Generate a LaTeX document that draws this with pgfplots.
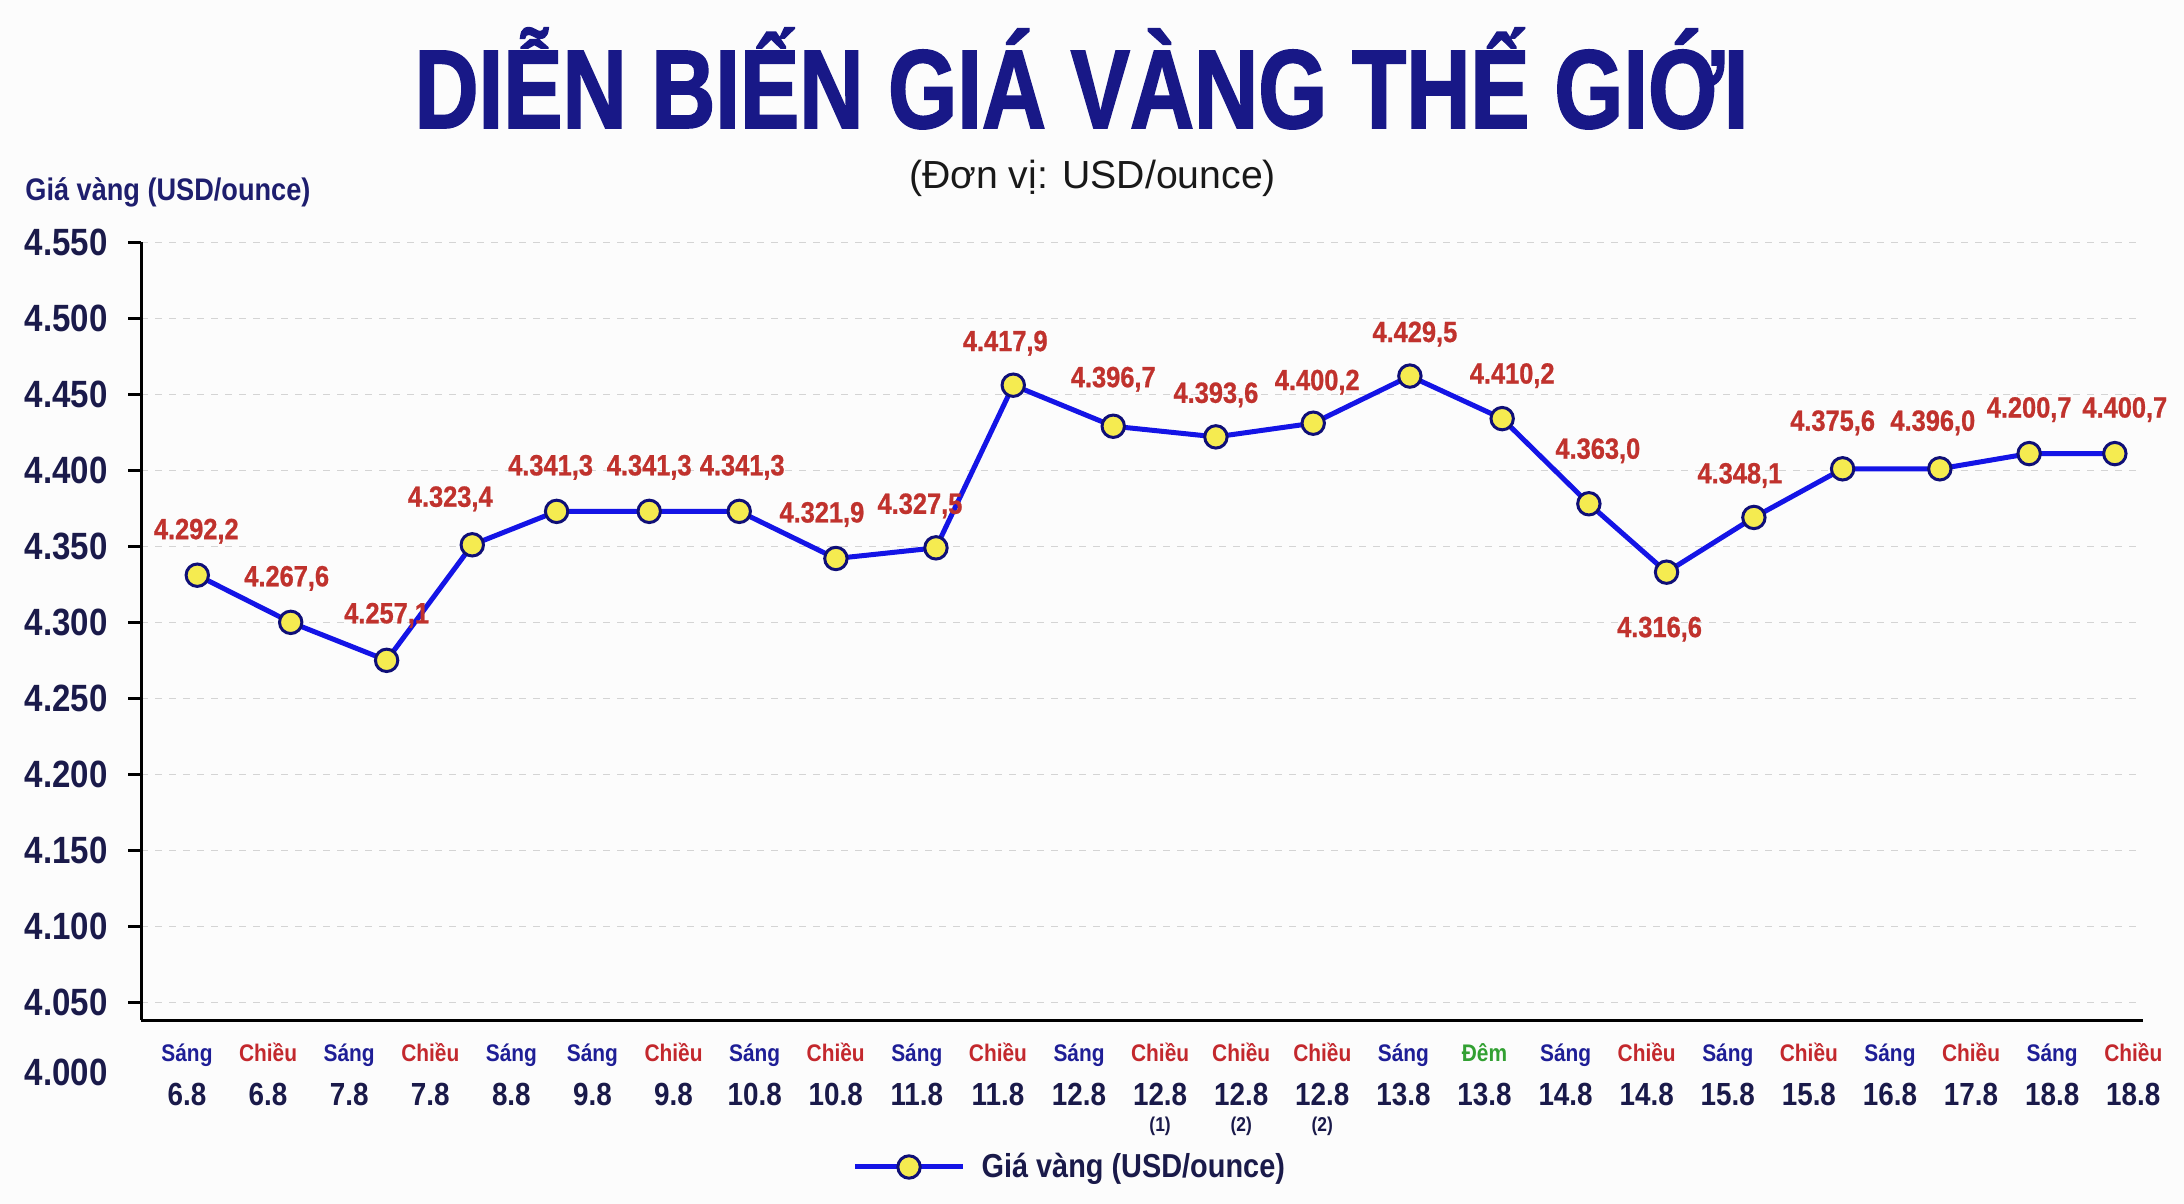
\documentclass[border=0pt]{standalone}
\usepackage{pgfplots}
\pgfplotsset{compat=1.18}
\usepackage{pgfplotstable}
\usepackage{fontspec}
\setmainfont{Liberation Sans}
\newfontfamily\cond{Liberation Sans}[FakeStretch=0.87]
\newfontfamily\condb{Liberation Sans}[FakeStretch=0.87,FakeBold=0.8]
\newfontfamily\titlefont{Liberation Sans}[FakeStretch=0.793,FakeBold=1.5]

\definecolor{bg}{RGB}{252,252,252}
\definecolor{ctitle}{RGB}{24,24,135}
\definecolor{cnavy}{RGB}{26,26,74}
\definecolor{cylab}{RGB}{30,30,110}
\definecolor{cred}{RGB}{192,50,45}
\definecolor{cline}{RGB}{20,20,230}
\definecolor{cfill}{RGB}{245,235,80}
\definecolor{cmark}{RGB}{15,15,120}
\definecolor{csang}{RGB}{30,30,150}
\definecolor{cchieu}{RGB}{195,40,45}
\definecolor{cdem}{RGB}{50,160,50}
\definecolor{cgrid}{RGB}{212,212,212}

% tick label: session word, date, optional extra line
\newcommand\tl[4]{\textcolor{#1}{\fontsize{12}{12}\selectfont #2}\\[3pt]#3\ifx\relax#4\relax\else\\[-6pt]{\fontsize{10}{10}\selectfont #4}\fi}
\newcommand\sa[1]{\tl{csang}{Sáng}{#1}{}}
\newcommand\ch[2][]{\tl{cchieu}{Chiều}{#2}{#1}}
\newcommand\de[1]{\tl{cdem}{Đêm}{#1}{}}

% x = position on the category scale, y = USD/ounce, dx dy = label offset (pt)
\pgfplotstableread{
x      y    dx    dy    lbl
0.127  4331 -0.5  22    4.292,2
1.279  4300 -2    22    4.267,6
2.462  4275  0    22.5  4.257,1
3.518  4351 -11   23    4.323,4
4.558  4373 -3    22    4.341,3
5.700  4373  0    22    4.341,3
6.810  4373  1.5  22    4.341,3
8.002  4342 -7    22    4.321,9
9.236  4349 -8    21    4.327,5
10.189 4456 -4    21    4.417,9
11.422 4429  0    23.5  4.396,7
12.688 4422  0    21    4.393,6
13.888 4431  2    20.5  4.400,2
15.080 4462  2.5  21    4.429,5
16.218 4434  5    21.5  4.410,2
17.287 4378  4.5  26.5  4.363,0
18.245 4333 -3.5 -28.5  4.316,6
19.322 4369 -7    21    4.348,1
20.416 4401 -5    23    4.375,6
21.615 4401 -3.5  23    4.396,0
22.716 4411  0    22    4.200,7
23.773 4411  5    22    4.400,7
}\gold

\begin{document}
\begin{tikzpicture}
\path[use as bounding box, fill=bg] (0,0) rectangle (1092pt,-602pt);

\begin{axis}[
  at={(70.5pt,-510pt)}, anchor=south west,
  scale only axis, width=1001pt, height=388.85pt,
  xmin=-0.567, xmax=24.12, ymin=4038.4, ymax=4550,
  clip=false,
  axis x line*=bottom, axis y line*=left,
  axis line style={line width=1.5pt, black},
  ytick={4050,4100,...,4550},
  scaled y ticks=false,
  yticklabel style={font=\cond\bfseries\fontsize{19}{19}\selectfont, color=cnavy,
    anchor=east, inner sep=0pt, xshift=-10pt,
    /pgf/number format/.cd, 1000 sep={.}, assume math mode=true},
  tick align=outside, major tick length=6.5pt,
  ytick style={line width=1.5pt, black},
  ymajorgrids,
  major grid style={cgrid, line width=0.75pt, dash pattern=on 3.5pt off 3.5pt},
  xtick={0,...,24},
  xtick style={draw=none},
  xticklabels={\sa{6.8},\ch{6.8},\sa{7.8},\ch{7.8},\sa{8.8},\sa{9.8},\ch{9.8},
    \sa{10.8},\ch{10.8},\sa{11.8},\ch{11.8},\sa{12.8},\ch[(1)]{12.8},\ch[(2)]{12.8},
    \ch[(2)]{12.8},\sa{13.8},\de{13.8},\sa{14.8},\ch{14.8},\sa{15.8},\ch{15.8},
    \sa{16.8},\ch{17.8},\sa{18.8},\ch{18.8}},
  xticklabel style={font=\cond\bfseries\fontsize{16}{19}\selectfont, color=cnavy,
    align=center, anchor=north, inner sep=0pt, yshift=-5pt},
  legend style={at={(0.3552,-0.189)}, anchor=west, draw=none, fill=none,
    inner sep=0pt, font=\cond\bfseries\fontsize{16.6}{20}\selectfont, text=cnavy},
  legend image code/.code={\draw[mark repeat=2,mark phase=2]
    plot coordinates {(0cm,0cm)(0.95cm,0cm)(1.9cm,0cm)};},
]
\addplot[line width=2.5pt, color=cline,
  mark=*, mark size=5.6pt,
  mark options={fill=cfill, draw=cmark, line width=1.5pt, solid},
  point meta=explicit symbolic,
  visualization depends on={\thisrow{dx}\as\dx},
  visualization depends on={\thisrow{dy}\as\dy},
  nodes near coords,
  nodes near coords style={font=\condb\bfseries\fontsize{14.6}{15}\selectfont,
    color=cred, anchor=center, xshift=\dx pt, yshift=\dy pt},
] table[x=x, y=y, meta=lbl] {\gold};
\addlegendentry{\hspace{6pt}Giá vàng (USD/ounce)}
\end{axis}

\begin{scope}[x=0.5pt, y=-0.5pt]
\node[anchor=base, font=\titlefont\bfseries\fontsize{56}{60}\selectfont, text=ctitle]
  at (1081.5,128) {DIỄN BIẾN GIÁ VÀNG THẾ GIỚI};
\node[anchor=base, font=\fontsize{19.6}{22}\selectfont, text=black!90]
  at (1092.5,188) {(Đơn vị: USD/ounce)};
\node[anchor=base west, inner sep=0pt, font=\cond\bfseries\fontsize{15.6}{18}\selectfont, text=cylab]
  at (25,200) {Giá vàng (USD/ounce)};
\node[anchor=base east, inner sep=0pt, font=\cond\bfseries\fontsize{19}{19}\selectfont, text=cnavy]
  at (108,1085.5) {4.000};
\end{scope}
\end{tikzpicture}
\end{document}
